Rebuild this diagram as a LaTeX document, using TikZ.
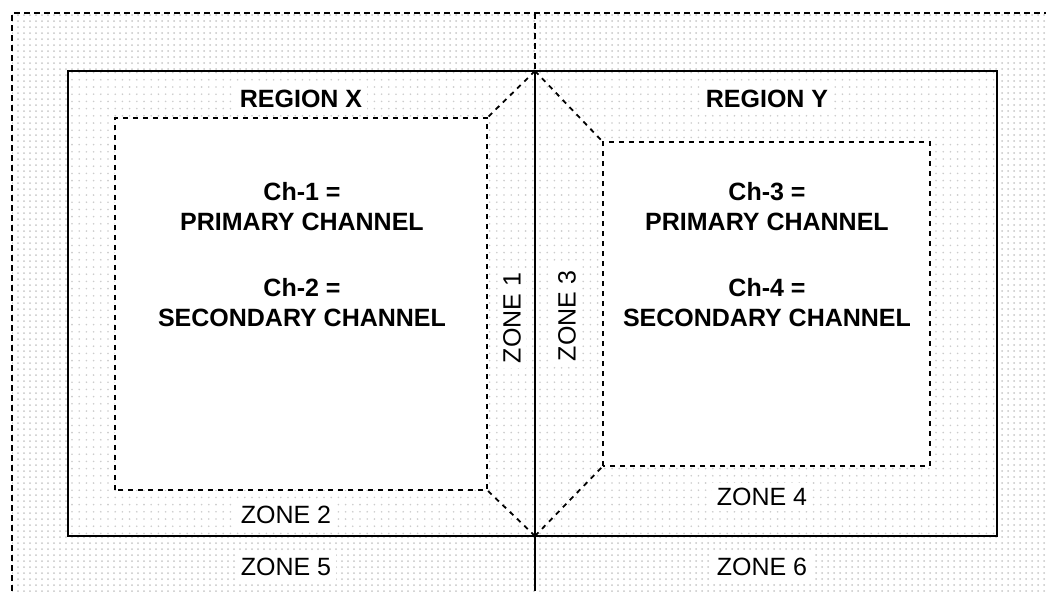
\documentclass[tikz,border=0pt]{standalone}
\usepackage{fontspec}
\setmainfont{Liberation Sans}
\usetikzlibrary{patterns}

\pgfdeclarepatternformonly{sparse dots}{\pgfqpoint{-1pt}{-1pt}}{\pgfqpoint{1pt}{1pt}}{\pgfqpoint{3.6pt}{3.6pt}}
{
  \pgfpathcircle{\pgfpointorigin}{.45pt}
  \pgfusepath{fill}
}

\tikzset{
  zone text/.style={font=\fontsize{12.5}{15}\selectfont, fill=white, inner sep=2.5pt},
  region text/.style={zone text, font=\fontsize{12.5}{15}\selectfont\bfseries},
  channel text/.style={align=center, font=\fontsize{12.5}{15}\selectfont\bfseries},
  outer border/.style={line width=1pt, dash pattern=on 3pt off 2pt},
  box border/.style={line width=0.9pt, dash pattern=on 2.5pt off 2.5pt},
}

\begin{document}
\begin{tikzpicture}[x=0.5pt, y=0.5pt]
  \useasboundingbox (0,0) rectangle (1046,591);
  % corners
  \coordinate (top) at (535,520);
  \coordinate (bottom) at (535,55);
  \coordinate (xsw) at (115,101);
  \coordinate (xne) at (487,473);
  \coordinate (ysw) at (603,125);
  \coordinate (yne) at (930,449);
  % background stipple
  \fill[pattern=dots, pattern color=gray!45] (12,0) rectangle (1046,578);
  \fill[white] (68,55) rectangle (997,520);
  \fill[pattern=sparse dots, pattern color=gray!40] (68,55) rectangle (997,520);
  \fill[white] (xsw) rectangle (xne);
  \fill[white] (ysw) rectangle (yne);
  % borders
  \draw[outer border] (12,0) -- (12,578) -- (1046,578);
  \draw[outer border] (535,578) -- (top);
  \draw[line width=1pt] (68,55) rectangle (997,520);
  \draw[line width=1pt] (top) -- (535,0);
  \draw[box border] (xsw) rectangle (xne);
  \draw[box border] (ysw) rectangle (yne);
  \draw[box border] (top) -- (xne);
  \draw[box border] (top) -- (ysw |- yne);
  \draw[box border] (bottom) -- (xne |- xsw);
  \draw[box border] (bottom) -- (ysw);
  % labels
  \node[region text] (regx) at (301,492) {REGION X};
  \node[region text] (regy) at (767,492) {REGION Y};
  \node[channel text] (ch12a) at (302,384) {Ch-1 =\\PRIMARY CHANNEL};
  \node[channel text] (ch12b) at (302,288) {Ch-2 =\\SECONDARY CHANNEL};
  \node[channel text] (ch34a) at (767,384) {Ch-3 =\\PRIMARY CHANNEL};
  \node[channel text] (ch34b) at (767,288) {Ch-4 =\\SECONDARY CHANNEL};
  \node[zone text, rotate=90] (z1) at (512,273) {ZONE 1};
  \node[zone text] (z2) at (286,76) {ZONE 2};
  \node[zone text, rotate=90] (z3) at (567,275) {ZONE 3};
  \node[zone text] (z4) at (762,94) {ZONE 4};
  \node[zone text] (z5) at (286,24) {ZONE 5};
  \node[zone text] (z6) at (762,24) {ZONE 6};
\end{tikzpicture}
\end{document}
